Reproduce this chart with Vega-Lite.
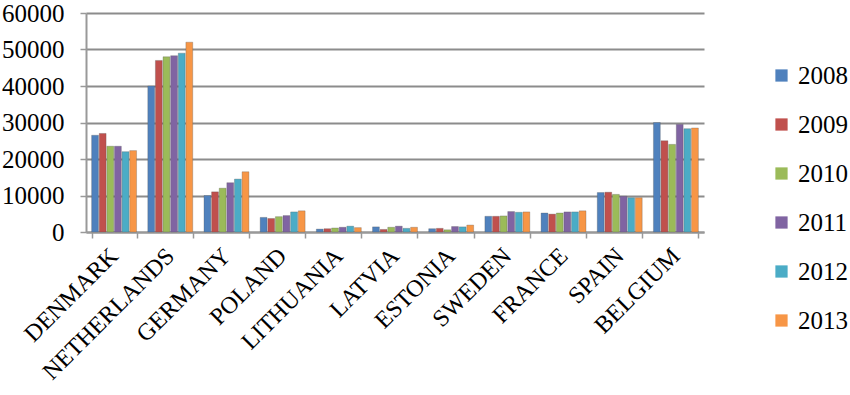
{
  "$schema": "https://vega.github.io/schema/vega-lite/v6.json",
  "autosize": {"type": "none"},
  "padding": {"left": 86, "top": 13, "right": 146, "bottom": 163},
  "width": 618,
  "height": 219,
  "background": "white",
  "data": {
    "values": [
      {"country": "DENMARK", "year": "2008", "value": 26500},
      {"country": "DENMARK", "year": "2009", "value": 27000},
      {"country": "DENMARK", "year": "2010", "value": 23500},
      {"country": "DENMARK", "year": "2011", "value": 23500},
      {"country": "DENMARK", "year": "2012", "value": 22000},
      {"country": "DENMARK", "year": "2013", "value": 22300},
      {"country": "NETHERLANDS", "year": "2008", "value": 40000},
      {"country": "NETHERLANDS", "year": "2009", "value": 47000},
      {"country": "NETHERLANDS", "year": "2010", "value": 48000},
      {"country": "NETHERLANDS", "year": "2011", "value": 48300},
      {"country": "NETHERLANDS", "year": "2012", "value": 49000},
      {"country": "NETHERLANDS", "year": "2013", "value": 52000},
      {"country": "GERMANY", "year": "2008", "value": 10000},
      {"country": "GERMANY", "year": "2009", "value": 11000},
      {"country": "GERMANY", "year": "2010", "value": 12000},
      {"country": "GERMANY", "year": "2011", "value": 13500},
      {"country": "GERMANY", "year": "2012", "value": 14500},
      {"country": "GERMANY", "year": "2013", "value": 16500},
      {"country": "POLAND", "year": "2008", "value": 4000},
      {"country": "POLAND", "year": "2009", "value": 3700},
      {"country": "POLAND", "year": "2010", "value": 4200},
      {"country": "POLAND", "year": "2011", "value": 4500},
      {"country": "POLAND", "year": "2012", "value": 5500},
      {"country": "POLAND", "year": "2013", "value": 5800},
      {"country": "LITHUANIA", "year": "2008", "value": 800},
      {"country": "LITHUANIA", "year": "2009", "value": 900},
      {"country": "LITHUANIA", "year": "2010", "value": 1100},
      {"country": "LITHUANIA", "year": "2011", "value": 1300},
      {"country": "LITHUANIA", "year": "2012", "value": 1600},
      {"country": "LITHUANIA", "year": "2013", "value": 1200},
      {"country": "LATVIA", "year": "2008", "value": 1400},
      {"country": "LATVIA", "year": "2009", "value": 700},
      {"country": "LATVIA", "year": "2010", "value": 1300},
      {"country": "LATVIA", "year": "2011", "value": 1600},
      {"country": "LATVIA", "year": "2012", "value": 1000},
      {"country": "LATVIA", "year": "2013", "value": 1300},
      {"country": "ESTONIA", "year": "2008", "value": 900},
      {"country": "ESTONIA", "year": "2009", "value": 1000},
      {"country": "ESTONIA", "year": "2010", "value": 600},
      {"country": "ESTONIA", "year": "2011", "value": 1500},
      {"country": "ESTONIA", "year": "2012", "value": 1400},
      {"country": "ESTONIA", "year": "2013", "value": 1900},
      {"country": "SWEDEN", "year": "2008", "value": 4300},
      {"country": "SWEDEN", "year": "2009", "value": 4300},
      {"country": "SWEDEN", "year": "2010", "value": 4400},
      {"country": "SWEDEN", "year": "2011", "value": 5600},
      {"country": "SWEDEN", "year": "2012", "value": 5400},
      {"country": "SWEDEN", "year": "2013", "value": 5500},
      {"country": "FRANCE", "year": "2008", "value": 5200},
      {"country": "FRANCE", "year": "2009", "value": 4900},
      {"country": "FRANCE", "year": "2010", "value": 5200},
      {"country": "FRANCE", "year": "2011", "value": 5500},
      {"country": "FRANCE", "year": "2012", "value": 5500},
      {"country": "FRANCE", "year": "2013", "value": 5800},
      {"country": "SPAIN", "year": "2008", "value": 10800},
      {"country": "SPAIN", "year": "2009", "value": 10900},
      {"country": "SPAIN", "year": "2010", "value": 10300},
      {"country": "SPAIN", "year": "2011", "value": 9800},
      {"country": "SPAIN", "year": "2012", "value": 9400},
      {"country": "SPAIN", "year": "2013", "value": 9400},
      {"country": "BELGIUM", "year": "2008", "value": 30000},
      {"country": "BELGIUM", "year": "2009", "value": 25000},
      {"country": "BELGIUM", "year": "2010", "value": 24000},
      {"country": "BELGIUM", "year": "2011", "value": 29500},
      {"country": "BELGIUM", "year": "2012", "value": 28300},
      {"country": "BELGIUM", "year": "2013", "value": 28500}
    ]
  },
  "mark": {"type": "bar", "stroke": "#555555", "strokeWidth": 0.3},
  "encoding": {
    "x": {
      "field": "country",
      "type": "nominal",
      "sort": null,
      "title": null,
      "scale": {"paddingInner": 0.2, "paddingOuter": 0.1},
      "axis": {
        "labelAngle": -45,
        "labelFont": "Liberation Serif",
        "labelFontSize": 24,
        "labelColor": "black",
        "labelAlign": "right",
        "labelBaseline": "middle",
        "labelPadding": 14,
        "labelOverlap": false,
        "labelBound": false,
        "labelLimit": 400,
        "domainColor": "#999999",
        "domainWidth": 2,
        "tickColor": "#999999",
        "tickWidth": 1.5,
        "tickSize": 6,
        "tickBand": "extent"
      }
    },
    "xOffset": {"field": "year", "type": "nominal", "scale": {"paddingInner": 0.1}},
    "y": {
      "field": "value",
      "type": "quantitative",
      "title": null,
      "scale": {"domain": [0, 60000], "nice": false},
      "axis": {
        "values": [0, 10000, 20000, 30000, 40000, 50000, 60000],
        "format": "d",
        "labelFont": "Liberation Serif",
        "labelFontSize": 25,
        "labelColor": "black",
        "labelPadding": 16,
        "domainColor": "#999999",
        "domainWidth": 2,
        "tickColor": "#999999",
        "tickWidth": 1.5,
        "tickSize": 6,
        "grid": true,
        "gridColor": "#8c8c8c",
        "gridWidth": 2
      }
    },
    "color": {
      "field": "year",
      "type": "nominal",
      "title": null,
      "scale": {
        "domain": ["2008", "2009", "2010", "2011", "2012", "2013"],
        "range": ["#4F81BD", "#C0504D", "#9BBB59", "#8064A2", "#4BACC6", "#F79646"]
      },
      "legend": {
        "orient": "none",
        "legendX": 683,
        "legendY": 50,
        "symbolType": "square",
        "symbolSize": 150,
        "symbolStrokeWidth": 0,
        "labelFont": "Liberation Serif",
        "labelFontSize": 25,
        "labelColor": "black",
        "labelLimit": 200,
        "rowPadding": 23,
        "labelOffset": 4
      }
    }
  },
  "config": {"view": {"stroke": null}}
}
